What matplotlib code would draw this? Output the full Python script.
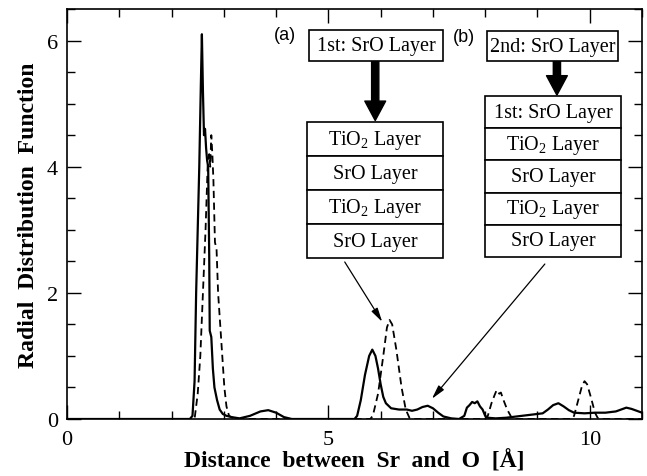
import matplotlib.pyplot as plt
from matplotlib.patches import Rectangle
from matplotlib.ticker import MultipleLocator

# solid curve (case a)
solid_x = [0.0, 2.35, 2.40, 2.44, 2.47, 2.50, 2.53, 2.56, 2.58, 2.60, 2.62, 2.64, 2.66,
           2.68, 2.70, 2.72, 2.73, 2.76, 2.79, 2.82, 2.87, 2.92, 2.98, 3.05, 3.15,
           3.30, 3.50, 3.70, 3.85, 4.00, 4.15, 4.30, 5.50, 5.55, 5.62, 5.70, 5.78,
           5.84, 5.90, 5.95, 6.00, 6.05, 6.10, 6.20, 6.35, 6.50, 6.60, 6.70, 6.80,
           6.90, 7.00, 7.10, 7.20, 7.35, 7.50, 7.60, 7.65, 7.70, 7.75, 7.80, 7.85,
           7.90, 7.95, 8.00, 8.05, 8.20, 8.40, 8.60, 8.80, 9.00, 9.10, 9.20, 9.30,
           9.40, 9.50, 9.60, 9.70, 9.90, 10.10, 10.30, 10.50, 10.60, 10.70, 10.80,
           10.90, 11.00]
solid_y = [0.0, 0.0, 0.05, 0.6, 2.0, 3.0, 4.0, 5.3, 6.1, 5.2, 4.5, 4.6, 4.3,
           4.1, 4.0, 2.6, 1.4, 1.3, 0.8, 0.5, 0.3, 0.15, 0.08, 0.05, 0.03,
           0.01, 0.05, 0.12, 0.14, 0.10, 0.03, 0.0, 0.0, 0.05, 0.3, 0.7, 1.0,
           1.1, 1.0, 0.8, 0.55, 0.35, 0.25, 0.17, 0.15, 0.15, 0.13, 0.15, 0.19,
           0.21, 0.17, 0.10, 0.04, 0.01, 0.0, 0.05, 0.18, 0.22, 0.27, 0.25, 0.28,
           0.20, 0.15, 0.05, 0.02, 0.01, 0.02, 0.04, 0.06, 0.08, 0.09, 0.15, 0.22,
           0.25, 0.20, 0.14, 0.10, 0.09, 0.10, 0.10, 0.12, 0.15, 0.18, 0.16,
           0.13, 0.10]

# dashed curve (case b)
dash_x = [0.0, 2.44, 2.50, 2.55, 2.60, 2.65, 2.69, 2.72, 2.74, 2.76, 2.78, 2.80,
          2.83, 2.86, 2.89, 2.93, 2.97, 3.01, 3.05, 3.10, 3.20, 5.80, 5.85, 5.95,
          6.05, 6.12, 6.17, 6.22, 6.30, 6.40, 6.48, 6.55, 6.60, 8.00, 8.05, 8.12,
          8.18, 8.22, 8.27, 8.30, 8.35, 8.42, 8.50, 8.55, 9.65, 9.70, 9.78, 9.85,
          9.90, 9.95, 10.02, 10.10, 10.15, 10.20, 11.00]
dash_y = [0.0, 0.0, 0.4, 1.0, 2.0, 3.0, 4.0, 4.2, 4.0, 4.5, 4.2, 3.8,
          2.8, 2.7, 2.0, 1.5, 1.0, 0.5, 0.2, 0.05, 0.0, 0.0, 0.05, 0.4,
          1.0, 1.45, 1.57, 1.5, 1.1, 0.5, 0.15, 0.02, 0.0, 0.0, 0.05, 0.25,
          0.38, 0.46, 0.40, 0.42, 0.30, 0.15, 0.03, 0.0, 0.0, 0.05, 0.30, 0.52,
          0.60, 0.55, 0.35, 0.10, 0.02, 0.0, 0.0]

stack_a = ['TiO$_2$ Layer', 'SrO Layer', 'TiO$_2$ Layer', 'SrO Layer']
stack_b = ['1st: SrO Layer', 'TiO$_2$ Layer', 'SrO Layer', 'TiO$_2$ Layer', 'SrO Layer']

serif = 'Liberation Serif'
plt.rcParams['mathtext.fontset'] = 'custom'
plt.rcParams['mathtext.rm'] = serif
plt.rcParams['mathtext.it'] = serif

fig = plt.figure(figsize=(6.47, 4.77), dpi=100)
ax = fig.add_axes([0.1036, 0.1195, 0.8887, 0.8595])

ax.plot(solid_x, solid_y, color='black', lw=1.6)
ax.plot(dash_x, dash_y, color='black', lw=1.3, linestyle=(0, (4, 2.5)))

ax.set_xlim(0, 11)
ax.set_ylim(0, 6.5)
ax.xaxis.set_major_locator(MultipleLocator(5))
ax.xaxis.set_minor_locator(MultipleLocator(1))
ax.yaxis.set_major_locator(MultipleLocator(2))
ax.yaxis.set_minor_locator(MultipleLocator(0.5))
ax.tick_params(which='both', direction='in', top=True, right=True, width=1)
ax.tick_params(which='major', length=10, labelsize=16)
ax.tick_params(which='minor', length=6)
ax.tick_params(axis='x', which='major', pad=8)
ax.tick_params(axis='y', which='major', pad=6.5)
for lab in ax.get_xticklabels() + ax.get_yticklabels():
    lab.set_fontfamily(serif)
for s in ax.spines.values():
    s.set_linewidth(1.2)

ax.set_xlabel('Distance  between  Sr  and  O  [Å]', fontfamily=serif,
              fontweight='bold', fontsize=17, labelpad=0)
ax.set_ylabel('Radial  Distribution  Function', fontfamily=serif,
              fontweight='bold', fontsize=17, labelpad=6)


def box(x0, x1, y_top, row_h, labels):
    for i, lab in enumerate(labels):
        y0 = y_top - (i + 1) * row_h
        ax.add_patch(Rectangle((x0, y0), x1 - x0, row_h, transform=ax.transAxes,
                               fill=True, fc='white', ec='black', lw=1.2, zorder=5))
        ax.text((x0 + x1) / 2, y0 + row_h / 2, lab, transform=ax.transAxes,
                ha='center', va='center', fontsize=14.5, fontfamily=serif, zorder=6)


box(0.421, 0.654, 0.949, 0.076, ['1st: SrO Layer'])
box(0.417, 0.654, 0.724, 0.0829, stack_a)
box(0.730, 0.958, 0.946, 0.073, ['2nd: SrO Layer'])
box(0.727, 0.963, 0.788, 0.0786, stack_b)

ax.text(0.379, 0.939, '(a)', transform=ax.transAxes, ha='center', va='center',
        fontsize=13, fontfamily='Liberation Sans')
ax.text(0.690, 0.934, '(b)', transform=ax.transAxes, ha='center', va='center',
        fontsize=13, fontfamily='Liberation Sans')

thick = dict(arrowstyle='simple,head_length=0.7,head_width=0.75,tail_width=0.26',
             fc='black', ec='black', mutation_scale=20, shrinkA=0, shrinkB=0)
ax.annotate('', xy=(0.536, 0.728), xytext=(0.536, 0.873),
            xycoords='axes fraction', textcoords='axes fraction', arrowprops=thick)
ax.annotate('', xy=(0.852, 0.790), xytext=(0.852, 0.873),
            xycoords='axes fraction', textcoords='axes fraction', arrowprops=thick)

thin = dict(arrowstyle='-|>,head_length=0.6,head_width=0.15', fc='black', ec='black',
            lw=0.9, mutation_scale=14, shrinkA=0, shrinkB=0)
ax.annotate('', xy=(6.03, 1.54), xytext=(0.483, 0.383), xycoords='data',
            textcoords='axes fraction', arrowprops=thin)
ax.annotate('', xy=(6.98, 0.32), xytext=(0.831, 0.378), xycoords='data',
            textcoords='axes fraction', arrowprops=thin)

fig.savefig('out.png', dpi=100)
